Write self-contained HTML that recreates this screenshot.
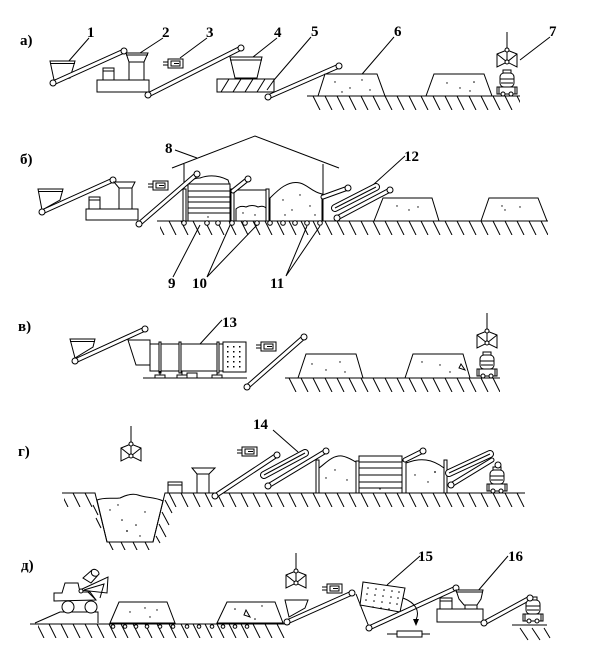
<!DOCTYPE html>
<html><head><meta charset="utf-8">
<style>
html,body{margin:0;padding:0;background:#fff}
svg{display:block}
.s{stroke:#000;stroke-width:1;fill:none}
.f{stroke:#000;stroke-width:1;fill:#fff}
.bo{stroke:#000;stroke-width:5;stroke-linecap:round;fill:none}
.bi{stroke:#fff;stroke-width:3;stroke-linecap:round;fill:none}
.wo{stroke:#000;stroke-width:8;stroke-linecap:round;fill:none}
.wi{stroke:#fff;stroke-width:6;stroke-linecap:round;fill:none}
.p{fill:#fff;stroke:#000;stroke-width:1}
.d{fill:#000}
text{font-family:"Liberation Serif","DejaVu Serif",serif;font-size:15px;font-weight:bold;fill:#000}
</style></head><body>
<svg width="600" height="649" viewBox="0 0 600 649" xmlns="http://www.w3.org/2000/svg">
<defs>
<pattern id="h" patternUnits="userSpaceOnUse" width="12" height="14"><line x1="1" y1="0" x2="8" y2="14" stroke="#000" stroke-width="1"/></pattern>
<g id="grab" stroke="#000" stroke-width="1" fill="none">
<line x1="0" y1="0" x2="0" y2="16"/>
<path d="M0,18 L-10,22 L-10,35 L0,30 L10,35 L10,22 Z" fill="#fff"/>
<path d="M-10,22 L0,30 L10,22 M0,18 L0,30"/>
<circle cx="0" cy="18" r="2" fill="#fff"/>
<circle cx="0" cy="30" r="2" fill="#fff"/>
</g>
<g id="mix" stroke="#000" stroke-width="1" fill="#fff">
<rect x="-4" y="-26" width="8" height="3"/>
<rect x="-7" y="-23" width="14" height="14" rx="4"/>
<line x1="-7" y1="-17" x2="7" y2="-17"/>
<line x1="-6" y1="-13" x2="6" y2="-13"/>
<rect x="-10" y="-9" width="20" height="7"/>
<line x1="-8" y1="-9" x2="-8" y2="-2"/><line x1="8" y1="-9" x2="8" y2="-2"/>
<circle cx="-4" cy="-2" r="2"/><circle cx="4" cy="-2" r="2"/>
</g>
<g id="mag" stroke="#000" stroke-width="1" fill="none">
<path d="M0,3H5M0,6H5"/>
<rect x="5" y="0" width="15" height="9" fill="#fff"/>
<rect x="8" y="2" width="9" height="5"/>
<path d="M11,4.5H16"/>
</g>
</defs>

<!-- ============ ROW а ============ -->
<text x="20" y="45">а)</text>
<text x="87" y="37">1</text>
<text x="162" y="37">2</text>
<text x="206" y="37">3</text>
<text x="274" y="37">4</text>
<text x="311" y="36">5</text>
<text x="394" y="36">6</text>
<text x="549" y="36">7</text>
<path class="s" d="M89,38 L68,62 M163,38 L140,53 M207,38 L180,58 M277,38 L253,57 M311,37 L274,80 M394,37 L357,80 M550,37 L520,60"/>

<polygon class="f" points="50,61 75,61 70,78 54,80"/>
<path class="s" d="M50,63.5H75"/>
<line class="bo" x1="53" y1="83" x2="124" y2="51"/><line class="bi" x1="53" y1="83" x2="124" y2="51"/>
<circle class="p" cx="53" cy="83" r="3"/><circle class="p" cx="124" cy="51" r="3"/>

<rect class="f" x="97" y="80" width="52" height="12"/>
<rect class="f" x="103" y="68" width="11" height="12"/>
<path class="s" d="M103,71H114"/>
<rect class="f" x="129" y="62" width="15" height="18"/>
<polygon class="f" points="126,53 148,53 144,62 129,62"/>
<path class="s" d="M126,55H148"/>

<use href="#mag" x="163" y="59"/>

<line class="bo" x1="148" y1="95" x2="241" y2="48"/><line class="bi" x1="148" y1="95" x2="241" y2="48"/>
<circle class="p" cx="148" cy="95" r="3"/><circle class="p" cx="241" cy="48" r="3"/>

<polygon class="f" points="230,57 262,57 257,78 235,78"/>
<path class="s" d="M230,60H262"/>
<rect class="f" x="217" y="79" width="57" height="13"/>
<path class="s" d="M221,92 L229,79 M233,92 L241,79 M245,92 L253,79 M257,92 L265,79 M267,90 L274,80"/>

<line class="bo" x1="268" y1="97" x2="339" y2="66"/><line class="bi" x1="268" y1="97" x2="339" y2="66"/>
<circle class="p" cx="268" cy="97" r="3"/><circle class="p" cx="339" cy="66" r="3"/>

<g transform="translate(0,96)"><rect x="309" y="0" width="211" height="14" fill="url(#h)"/></g>
<path class="s" d="M307,96H520"/>
<polygon class="f" points="318,96 325,74 377,74 385,96"/>
<polygon class="f" points="426,96 434,74 484,74 492,96"/>
<g class="d"><circle cx="335" cy="82" r=".7"/><circle cx="350" cy="88" r=".7"/><circle cx="362" cy="80" r=".7"/><circle cx="370" cy="90" r=".7"/><circle cx="342" cy="92" r=".7"/><circle cx="447" cy="83" r=".7"/><circle cx="460" cy="88" r=".7"/><circle cx="474" cy="82" r=".8"/><circle cx="470" cy="91" r=".7"/></g>
<use href="#grab" x="507" y="32"/>
<use href="#mix" x="507" y="96"/>

<!-- ============ ROW б ============ -->
<text x="20" y="164">б)</text>
<text x="165" y="153">8</text>
<text x="404" y="161">12</text>
<text x="168" y="288">9</text>
<text x="192" y="288">10</text>
<text x="270" y="288">11</text>
<path class="s" d="M175,150 L197,158 M173,277 L200,225 M207,277 L231,223 M207,277 L257,225 M286,276 L307,226 M286,276 L320,226 M405,156 L373,185"/>

<polygon class="f" points="38,189 63,189 60,200 42,210"/>
<path class="s" d="M38,191.5H63"/>
<line class="bo" x1="42" y1="212" x2="113" y2="180"/><line class="bi" x1="42" y1="212" x2="113" y2="180"/>
<circle class="p" cx="42" cy="212" r="3"/><circle class="p" cx="113" cy="180" r="3"/>
<rect class="f" x="86" y="209" width="52" height="11"/>
<rect class="f" x="89" y="197" width="11" height="12"/>
<path class="s" d="M89,200H100"/>
<rect class="f" x="119" y="188" width="13" height="21"/>
<polygon class="f" points="114,182 135,182 132,188 119,188"/>
<use href="#mag" x="148" y="181"/>

<!-- house -->
<path class="s" d="M172,168 L255,136 L339,168 M184,164 V221 M323,164 V221"/>

<g transform="translate(0,221)"><rect x="160" y="0" width="388" height="14" fill="url(#h)"/></g>
<path class="s" d="M157,221H548"/>

<!-- bin 9 -->
<path class="f" d="M188,186 Q190,178 200,178 Q214,173 228,180 L230,186 Z"/>
<rect class="f" x="188" y="184" width="42" height="37"/>
<path class="s" d="M188,191H230 M188,197H230 M188,202H230 M188,208H230 M188,213H230"/>
<rect class="f" x="183" y="189" width="3" height="32"/>
<rect class="f" x="231" y="189" width="3" height="32"/>
<!-- second box -->
<path class="s" d="M234,190H268"/>
<path class="f" d="M236,221 L236,209 Q240,205 246,207 Q252,204 258,207 Q263,205 266,208 L266,221 Z"/>
<rect class="f" x="266" y="189" width="3" height="32"/>
<!-- big pile -->
<path class="f" d="M270,221 L270,198 C278,190 288,180 300,183 C308,185 312,192 322,194 L322,221 Z"/>
<g class="d"><circle cx="243" cy="213" r=".7"/><circle cx="255" cy="215" r=".7"/><circle cx="283" cy="200" r=".7"/><circle cx="292" cy="210" r=".7"/><circle cx="300" cy="195" r=".7"/><circle cx="310" cy="206" r=".7"/><circle cx="315" cy="215" r=".7"/><circle cx="208" cy="217" r=".7"/><circle cx="285" cy="215" r=".7"/></g>

<line class="bo" x1="139" y1="224" x2="197" y2="174"/><line class="bi" x1="139" y1="224" x2="197" y2="174"/>
<circle class="p" cx="139" cy="224" r="3"/><circle class="p" cx="197" cy="174" r="3"/>
<line class="bo" x1="233" y1="191" x2="248" y2="179"/><line class="bi" x1="233" y1="191" x2="248" y2="179"/>
<circle class="p" cx="248" cy="179" r="3"/>

<!-- rollers -->
<g class="p">
<circle cx="184" cy="223" r="2.3"/><circle cx="207" cy="223" r="2.3"/><circle cx="218" cy="223" r="2.3"/><circle cx="232" cy="223" r="2.3"/><circle cx="245" cy="223" r="2.3"/><circle cx="257" cy="223" r="2.3"/><circle cx="270" cy="223" r="2.3"/><circle cx="283" cy="223" r="2.3"/><circle cx="295" cy="223" r="2.3"/><circle cx="307" cy="223" r="2.3"/><circle cx="320" cy="223" r="2.3"/>
</g>

<!-- outside conveyors 12 -->
<line class="bo" x1="323" y1="197" x2="348" y2="188"/><line class="bi" x1="323" y1="197" x2="348" y2="188"/>
<circle class="p" cx="348" cy="188" r="3"/>
<line class="wo" x1="335" y1="208" x2="376" y2="187"/><line class="wi" x1="335" y1="208" x2="376" y2="187"/>
<line class="s" x1="335" y1="208" x2="376" y2="187"/>
<line class="bo" x1="337" y1="218" x2="390" y2="190"/><line class="bi" x1="337" y1="218" x2="390" y2="190"/>
<circle class="p" cx="337" cy="218" r="3"/><circle class="p" cx="390" cy="190" r="3"/>

<polygon class="f" points="374,221 383,198 432,198 439,221"/>
<polygon class="f" points="481,221 489,198 538,198 547,221"/>
<g class="d"><circle cx="397" cy="206" r=".7"/><circle cx="409" cy="210" r=".7"/><circle cx="418" cy="207" r=".7"/><circle cx="502" cy="206" r=".7"/><circle cx="505" cy="210" r=".7"/><circle cx="520" cy="207" r=".7"/></g>

<!-- ============ ROW в ============ -->
<text x="18" y="331">в)</text>
<text x="222" y="327">13</text>
<path class="s" d="M222,320 L200,344"/>

<polygon class="f" points="70,339 95,339 93,347 75,358"/>
<path class="s" d="M70,341.5H95"/>
<line class="bo" x1="75" y1="361" x2="145" y2="329"/><line class="bi" x1="75" y1="361" x2="145" y2="329"/>
<circle class="p" cx="75" cy="361" r="3"/><circle class="p" cx="145" cy="329" r="3"/>

<polygon class="f" points="128,340 150,340 150,365 136,365"/>
<rect class="f" x="150" y="344" width="73" height="27"/>
<rect class="f" x="159" y="342" width="2" height="31"/>
<rect class="f" x="179" y="342" width="2" height="31"/>
<rect class="f" x="217" y="342" width="2" height="31"/>
<path class="s" d="M143,378H247 M160,371V375 M182,371V375 M217,371V375"/>
<rect class="f" x="155" y="375" width="10" height="3"/>
<rect class="f" x="177" y="375" width="10" height="3"/>
<rect class="f" x="212" y="375" width="10" height="3"/>
<rect class="f" x="187" y="373" width="10" height="5"/>
<rect class="f" x="223" y="342" width="23" height="30"/>
<g class="d">
<rect x="227" y="346" width="1.5" height="1.5"/><rect x="233" y="346" width="1.5" height="1.5"/><rect x="239" y="346" width="1.5" height="1.5"/>
<rect x="227" y="351" width="1.5" height="1.5"/><rect x="233" y="351" width="1.5" height="1.5"/><rect x="239" y="351" width="1.5" height="1.5"/>
<rect x="227" y="356" width="1.5" height="1.5"/><rect x="233" y="356" width="1.5" height="1.5"/><rect x="239" y="356" width="1.5" height="1.5"/>
<rect x="227" y="361" width="1.5" height="1.5"/><rect x="233" y="361" width="1.5" height="1.5"/><rect x="239" y="361" width="1.5" height="1.5"/>
<rect x="227" y="366" width="1.5" height="1.5"/><rect x="233" y="366" width="1.5" height="1.5"/><rect x="239" y="366" width="1.5" height="1.5"/>
</g>
<use href="#mag" x="256" y="342"/>
<line class="bo" x1="247" y1="387" x2="304" y2="337"/><line class="bi" x1="247" y1="387" x2="304" y2="337"/>
<circle class="p" cx="247" cy="387" r="3"/><circle class="p" cx="304" cy="337" r="3"/>

<g transform="translate(0,378)"><rect x="287" y="0" width="213" height="14" fill="url(#h)"/></g>
<path class="s" d="M285,378H500"/>
<polygon class="f" points="298,378 306,354 356,354 363,378"/>
<polygon class="f" points="405,378 413,354 463,354 470,378"/>
<g class="d"><circle cx="312" cy="364" r=".7"/><circle cx="326" cy="370" r=".7"/><circle cx="340" cy="362" r=".7"/><circle cx="345" cy="372" r=".7"/><circle cx="422" cy="362" r=".7"/><circle cx="440" cy="365" r=".7"/><circle cx="450" cy="372" r=".7"/></g>
<path class="s" d="M461,364 L465,370 L459,368 Z"/>
<use href="#grab" x="487" y="313"/>
<use href="#mix" x="487" y="378"/>

<!-- ============ ROW г ============ -->
<text x="18" y="456">г)</text>
<text x="253" y="429">14</text>
<path class="s" d="M273,430 L298,452"/>
<use href="#grab" x="131" y="426"/>

<g transform="translate(0,493)"><rect x="64" y="0" width="31" height="14" fill="url(#h)"/><rect x="168" y="0" width="357" height="14" fill="url(#h)"/></g>
<g transform="translate(0,542)"><rect x="104" y="0" width="52" height="8" fill="url(#h)"/></g>
<path class="s" d="M165,500 L172,513 M162,512 L169,525 M159,524 L166,537 M156,536 L160,543 M93,505 L98,515 M96,518 L101,528"/>
<path class="f" d="M97,500 C105,497 112,499 120,498 C126,495 132,493 138,495 C146,498 155,497 163,501 L153,542 L107,542 Z"/>
<path class="s" d="M62,493H95 L107,542 H153 L165,493 H525"/>
<g class="d"><circle cx="110" cy="510" r=".7"/><circle cx="122" cy="520" r=".8"/><circle cx="127" cy="531" r=".9"/><circle cx="136" cy="525" r=".8"/><circle cx="145" cy="512" r=".7"/><circle cx="118" cy="505" r=".7"/><circle cx="140" cy="536" r=".7"/></g>

<rect class="f" x="168" y="482" width="14" height="11"/>
<path class="s" d="M168,485H182"/>
<polygon class="f" points="192,468 215,468 209,474 197,474"/>
<rect class="f" x="197" y="474" width="12" height="19"/>
<use href="#mag" x="237" y="447"/>
<line class="bo" x1="215" y1="496" x2="277" y2="455"/><line class="bi" x1="215" y1="496" x2="277" y2="455"/>
<circle class="p" cx="215" cy="496" r="3"/><circle class="p" cx="277" cy="455" r="3"/>
<line class="wo" x1="264" y1="475" x2="305" y2="453"/><line class="wi" x1="264" y1="475" x2="305" y2="453"/>
<line class="s" x1="264" y1="475" x2="305" y2="453"/>
<line class="bo" x1="268" y1="486" x2="326" y2="451"/><line class="bi" x1="268" y1="486" x2="326" y2="451"/>
<circle class="p" cx="268" cy="486" r="3"/><circle class="p" cx="326" cy="451" r="3"/>

<rect class="f" x="316" y="460" width="3" height="33"/>
<path class="f" d="M319,493 L319,468 C325,464 332,455 342,456 C348,457 352,460 356,462 L356,493 Z"/>
<rect class="f" x="359" y="456" width="43" height="37"/>
<path class="s" d="M359,462H402 M359,468H402 M359,475H402 M359,482H402 M359,488H402"/>
<rect class="f" x="356" y="461" width="3" height="32"/>
<rect class="f" x="402" y="461" width="4" height="32"/>
<line class="bo" x1="405" y1="460" x2="423" y2="451"/><line class="bi" x1="405" y1="460" x2="423" y2="451"/>
<circle class="p" cx="423" cy="451" r="3"/>
<path class="f" d="M406,493 L406,463 C412,461 418,459 426,460 C434,461 440,465 444,468 L444,493 Z"/>
<rect class="f" x="444" y="460" width="3" height="33"/>
<g class="d"><circle cx="326" cy="478" r=".7"/><circle cx="335" cy="470" r=".7"/><circle cx="347" cy="480" r=".7"/><circle cx="415" cy="475" r=".7"/><circle cx="428" cy="482" r=".7"/><circle cx="435" cy="472" r=".9"/><circle cx="380" cy="489" r=".7"/></g>
<line class="wo" x1="449" y1="473" x2="490" y2="454"/><line class="wi" x1="449" y1="473" x2="490" y2="454"/>
<line class="s" x1="449" y1="473" x2="490" y2="454"/>
<line class="bo" x1="451" y1="485" x2="492" y2="460"/><line class="bi" x1="451" y1="485" x2="492" y2="460"/>
<circle class="p" cx="451" cy="485" r="3"/>
<use href="#mix" x="497" y="493"/>
<circle class="p" cx="498" cy="465" r="3"/>

<!-- ============ ROW д ============ -->
<text x="21" y="570">д)</text>
<text x="418" y="561">15</text>
<text x="508" y="561">16</text>
<path class="s" d="M420,556 L387,585 M508,556 L477,592"/>

<g transform="translate(0,624)"><rect x="38" y="0" width="250" height="14" fill="url(#h)"/></g>
<path class="s" d="M30,624H290"/>
<polyline class="f" points="35,623 60,612 98,612 98,623"/>
<!-- loader -->
<path class="f" d="M54,601 L54,593 L62,593 L65,583 L78,583 L80,592 L90,592 L96,600 L54,601 Z"/>
<path class="f" d="M80,590 L108,577 L107,593 Z"/>
<path class="s" d="M84,590 L104,584 L100,598 M88,592 L96,600"/>
<path class="f" d="M83,578 L92,570 C95,568 99,571 99,574 L91,583 Z"/>
<path class="s" d="M92,570 C90,574 93,577 97,576"/>
<circle class="p" cx="81" cy="591" r="2"/>
<circle class="p" cx="68" cy="607" r="6"/>
<circle class="p" cx="91" cy="607" r="6"/>

<polygon class="f" points="110,623 119,602 167,602 175,623"/>
<polygon class="f" points="217,623 227,602 275,602 283,623"/>
<g class="d"><circle cx="130" cy="612" r=".7"/><circle cx="145" cy="608" r=".7"/><circle cx="150" cy="617" r=".7"/><circle cx="157" cy="610" r=".7"/><circle cx="235" cy="609" r=".8"/><circle cx="255" cy="619" r=".8"/><circle cx="262" cy="606" r=".7"/></g>
<path class="s" d="M246,610 L250,617 L244,615 Z"/>
<g class="p">
<circle cx="113" cy="626.5" r="1.8"/><circle cx="125" cy="626.5" r="1.8"/><circle cx="136" cy="626.5" r="1.8"/><circle cx="147" cy="626.5" r="1.8"/><circle cx="160" cy="626.5" r="1.8"/><circle cx="173" cy="626.5" r="1.8"/><circle cx="187" cy="626.5" r="1.8"/><circle cx="199" cy="626.5" r="1.8"/><circle cx="212" cy="626.5" r="1.8"/><circle cx="223" cy="626.5" r="1.8"/><circle cx="235" cy="626.5" r="1.8"/><circle cx="247" cy="626.5" r="1.8"/>
</g>

<use href="#grab" x="296" y="553"/>
<polygon class="f" points="285,600 308,600 305,608 289,617"/>
<line class="bo" x1="287" y1="622" x2="352" y2="593"/><line class="bi" x1="287" y1="622" x2="352" y2="593"/>
<circle class="p" cx="287" cy="622" r="3"/><circle class="p" cx="352" cy="593" r="3"/>
<use href="#mag" x="322" y="584"/>

<!-- screen 15 -->
<path class="s" d="M356,594 L369,627 M360,604 L369,627"/>
<polygon class="f" points="363,582 405,588 400,612 360,605"/>
<g class="d">
<circle cx="368" cy="588" r=".8"/><circle cx="376" cy="589" r=".8"/><circle cx="384" cy="590" r=".8"/><circle cx="392" cy="591" r=".8"/><circle cx="399" cy="592" r=".8"/>
<circle cx="367" cy="594" r=".8"/><circle cx="375" cy="595" r=".8"/><circle cx="383" cy="596" r=".8"/><circle cx="391" cy="597" r=".8"/><circle cx="398" cy="598" r=".8"/>
<circle cx="366" cy="600" r=".8"/><circle cx="374" cy="601" r=".8"/><circle cx="382" cy="602" r=".8"/><circle cx="390" cy="603" r=".8"/><circle cx="397" cy="604" r=".8"/>
<circle cx="373" cy="607" r=".8"/><circle cx="381" cy="608" r=".8"/><circle cx="389" cy="609" r=".8"/>
</g>
<line class="bo" x1="369" y1="628" x2="456" y2="588"/><line class="bi" x1="369" y1="628" x2="456" y2="588"/>
<circle class="p" cx="369" cy="628" r="3"/><circle class="p" cx="456" cy="588" r="3"/>
<path class="s" d="M403,598 C416,603 420,611 416,620"/>
<polygon points="413,619 419,619 416,626" fill="#000"/>
<path class="s" d="M387,634H430"/>
<rect class="f" x="397" y="631" width="25" height="6"/>

<!-- machine 16 -->
<rect class="f" x="437" y="609" width="46" height="13"/>
<rect class="f" x="440" y="598" width="12" height="11"/>
<path class="s" d="M440,601H452"/>
<rect class="f" x="465" y="604" width="12" height="5"/>
<path class="f" d="M456,590 L483,590 L481,599 L477,605 L464,605 L459,599 Z"/>
<path class="s" d="M456,592H483"/>
<line class="bo" x1="484" y1="623" x2="530" y2="598"/><line class="bi" x1="484" y1="623" x2="530" y2="598"/>
<circle class="p" cx="484" cy="623" r="3"/>
<use href="#mix" x="533" y="623"/>
<circle class="p" cx="530" cy="598" r="3"/>
<path class="s" d="M512,625H547 M520,628 L528,640 M532,628 L540,640 M544,628 L550,638"/>
</svg>
</body></html>
